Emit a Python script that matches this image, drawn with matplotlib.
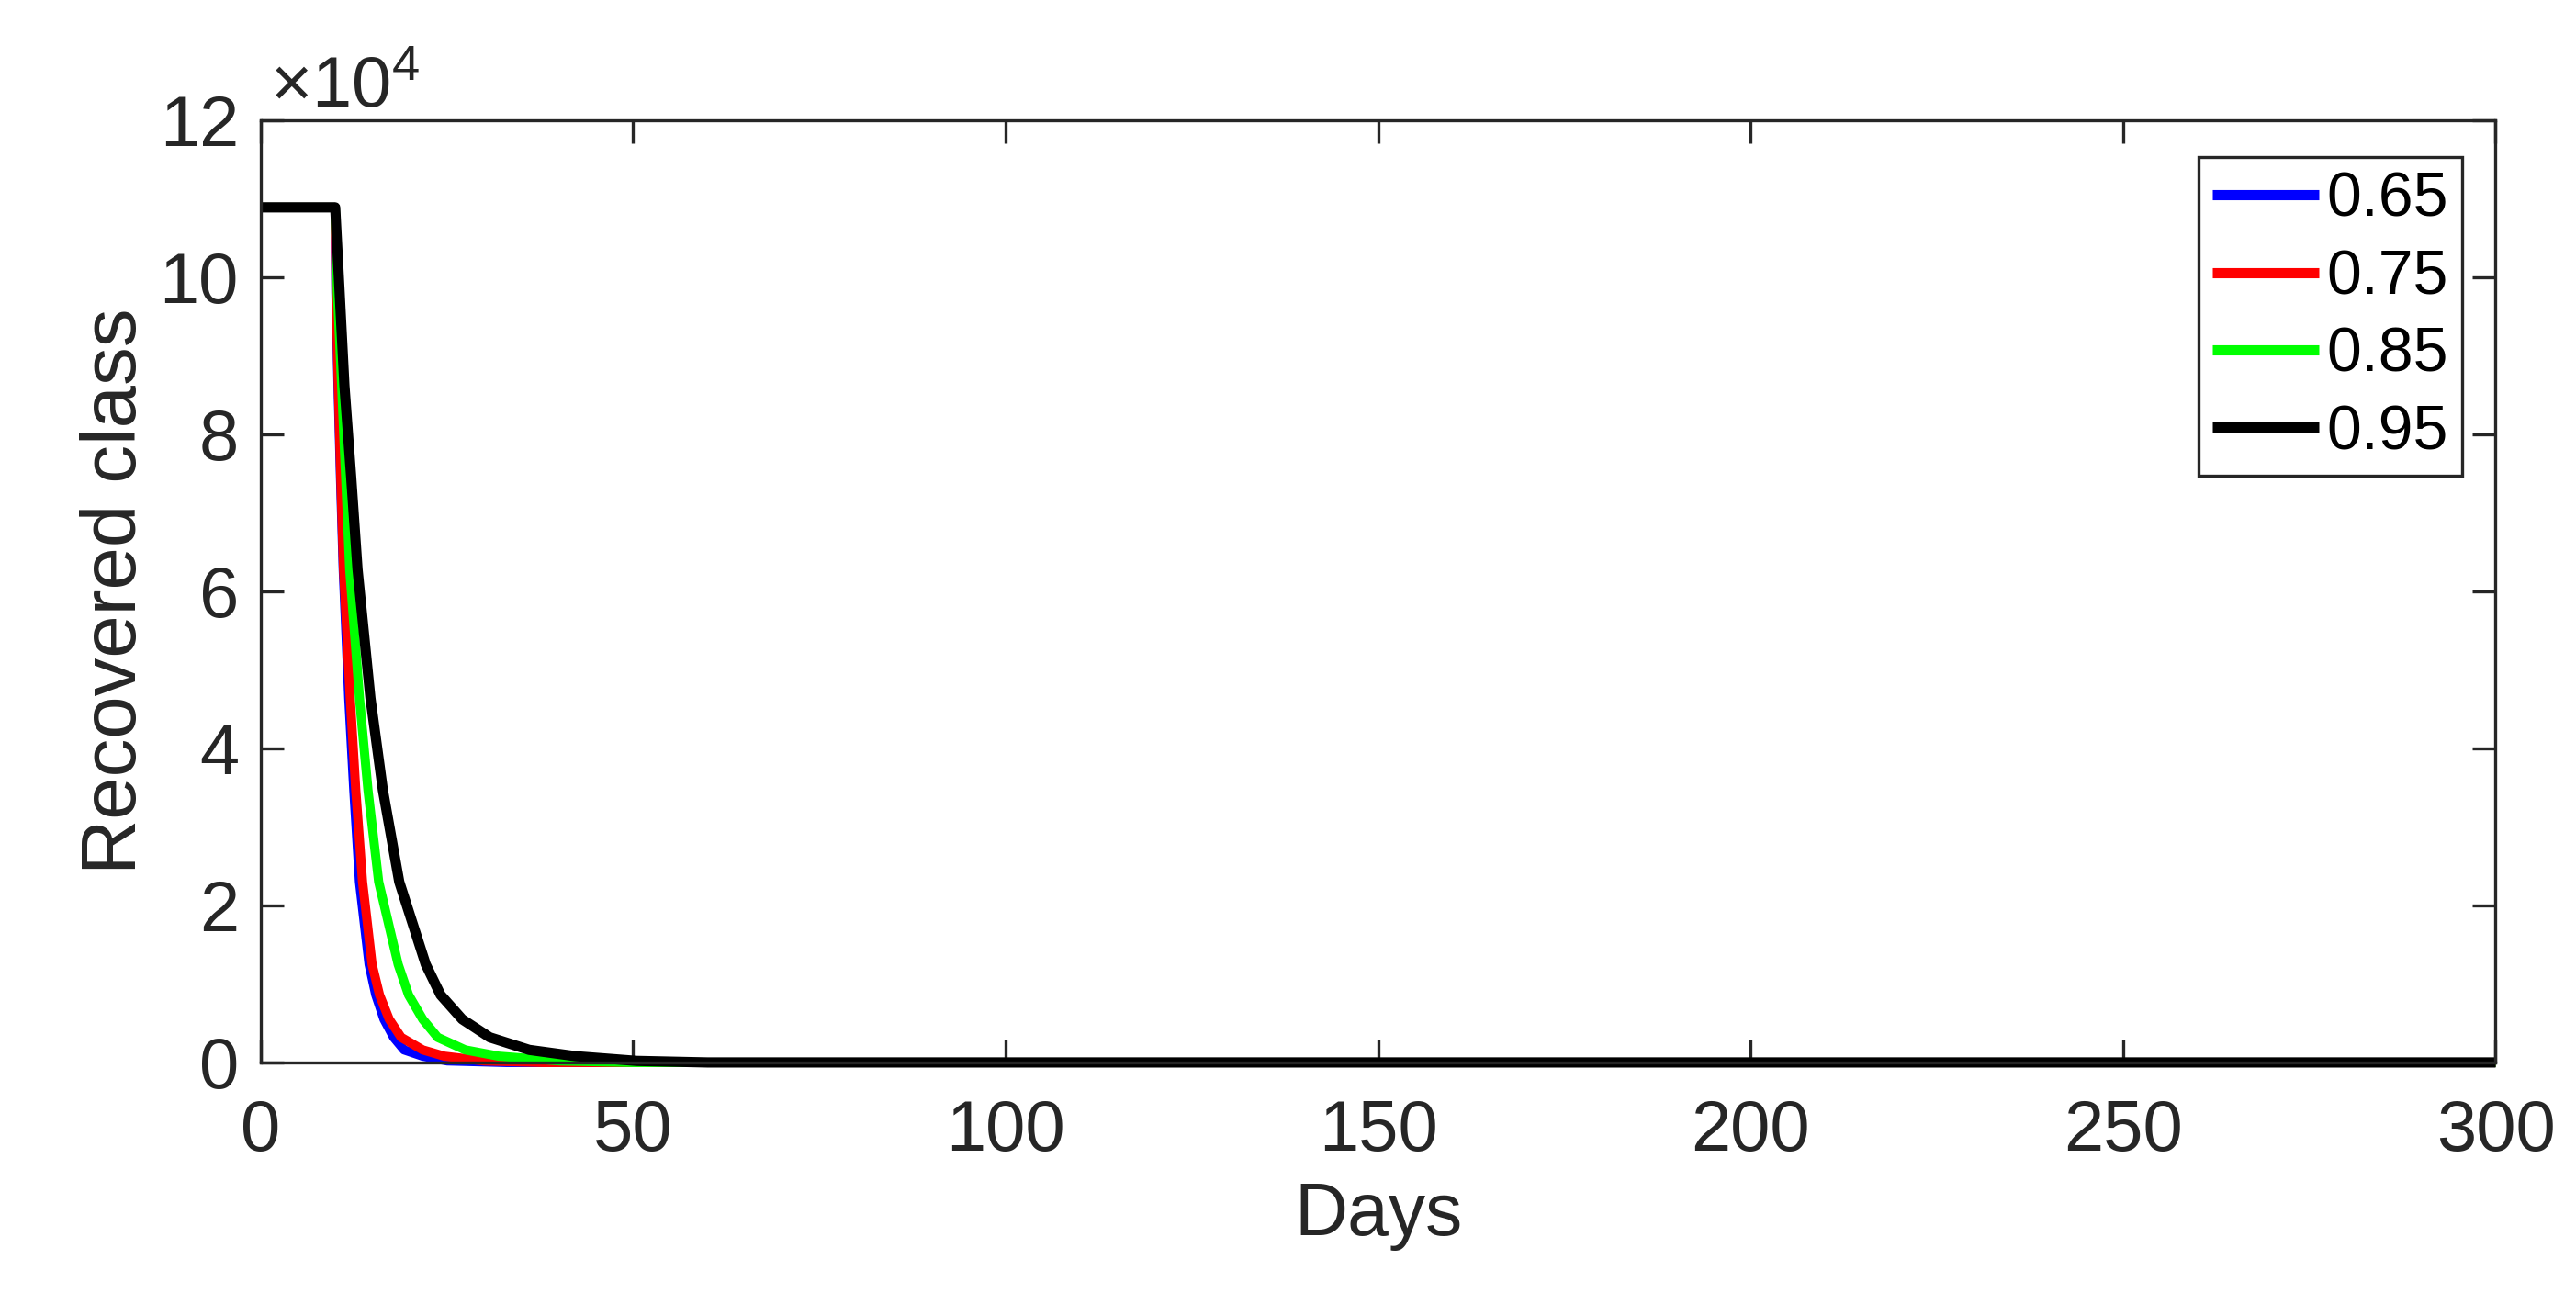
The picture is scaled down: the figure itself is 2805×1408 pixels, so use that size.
import numpy as np
import matplotlib
matplotlib.use('Agg')
import matplotlib.pyplot as plt
from matplotlib.ticker import FuncFormatter

plt.rcParams['font.family'] = ['Liberation Sans', 'DejaVu Sans']
plt.rcParams['mathtext.fontset'] = 'custom'
plt.rcParams['mathtext.rm'] = 'Liberation Sans'
plt.rcParams['mathtext.it'] = 'Liberation Sans'

# values (y in units of 1e4, scaled below)
labels = ['0.65', '0.75', '0.85', '0.95']
colors = ['#0000ff', '#ff0000', '#00ff00', '#000000']
widths = [3.6, 3.6, 3.6, 4.0]

rec_levels = [10.89, 10.89, 9.8, 8.62, 7.45, 6.28, 4.64, 3.47, 2.30, 1.25, 0.86, 0.55, 0.32, 0.16, 0.08, 0.02, 0, 0]

days_065 = [0, 10, 10.1, 10.38, 10.71, 11.08, 11.82, 12.5, 13.26, 14.55, 15.45, 16.55, 17.85, 19.25, 21.75, 25.05, 33, 300]
days_075 = [0, 10, 10.12, 10.42, 10.75, 11.12, 12.02, 12.76, 13.67, 14.95, 15.95, 17.25, 18.85, 21.75, 24.65, 29.95, 38, 300]
days_085 = [0, 10, 10.3, 10.87, 11.41, 11.95, 13.26, 14.4, 15.84, 18.45, 19.85, 21.75, 23.75, 27.45, 31.95, 40.15, 50, 300]
days_095 = [0, 10, 10.6, 11.24, 12.15, 13.0, 14.73, 16.4, 18.6, 22.15, 24.15, 27.05, 30.75, 36.05, 42.25, 50.45, 60, 300]

rec_065 = rec_levels
rec_075 = rec_levels
rec_085 = rec_levels
rec_095 = rec_levels

all_days = [days_065, days_075, days_085, days_095]
all_rec = [rec_065, rec_075, rec_085, rec_095]

fig = plt.figure(figsize=(14.025, 7.04), dpi=200)
ax = fig.add_axes([0.1012, 0.1783, 0.8676, 0.7287])

for d, r, c, w, lab in zip(all_days, all_rec, colors, widths, labels):
    ax.plot(d, np.array(r) * 1e4, color=c, lw=w, label=lab,
            solid_joinstyle='round', solid_capstyle='butt', clip_on=False)

ax.set_xlim(0, 300)
ax.set_ylim(0, 12e4)
ax.set_xticks(np.arange(0, 301, 50))
ax.set_yticks(np.arange(0, 12.1e4, 2e4))
ax.yaxis.set_major_formatter(FuncFormatter(lambda v, p: '%g' % (v / 1e4)))

dark = '#262626'
for s in ax.spines.values():
    s.set_linewidth(1.2)
    s.set_color(dark)
ax.tick_params(direction='in', length=9, width=1.2, colors=dark, labelsize=28,
               top=True, right=True)
ax.tick_params(axis='x', pad=14)
ax.tick_params(axis='y', pad=8.6)

ax.text(0.004, 1.0136, r'$\times10^{4}$', transform=ax.transAxes, fontsize=28,
        color=dark, ha='left', va='baseline')

ax.set_xlabel('Days', fontsize=29, color=dark, labelpad=6)
ax.set_ylabel('Recovered class', fontsize=30, color=dark, labelpad=3)

leg = ax.legend(loc='upper right', bbox_to_anchor=(0.985, 0.961), fontsize=24.5,
                frameon=True, fancybox=False, edgecolor=dark, framealpha=1,
                handlelength=1.7, handletextpad=0.13, borderpad=0.22,
                labelspacing=0.3, borderaxespad=0)
leg.get_frame().set_linewidth(1.2)
for t in leg.get_texts():
    t.set_color('black')
for h in leg.legend_handles:
    h.set_linewidth(4.0)

fig.savefig('out.png', dpi=200)
